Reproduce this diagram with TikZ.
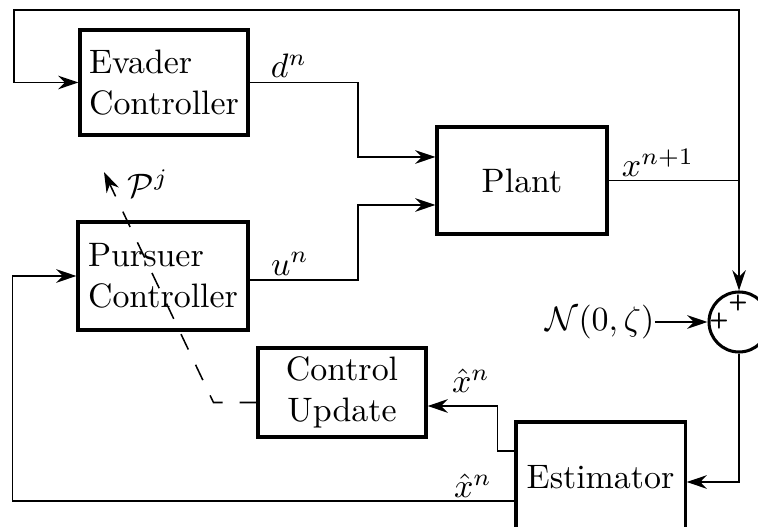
\documentclass[tikz,border=0pt]{standalone}
\usetikzlibrary{arrows.meta,calc}
\begin{document}
\begin{tikzpicture}[x=0.295pt,y=-0.295pt,
  box/.style 2 args={draw, line width=0.9pt, inner sep=0pt, minimum width=#1, minimum height=#2},
  conn/.style={line width=0.45pt},
  arr/.style={conn, -{Stealth[length=6pt,width=4pt]}},
  plus/.style={inner sep=0pt, font=\fontsize{6.5}{7}\selectfont\sffamily\bfseries},
  lbl/.style={inner sep=0pt}]
\useasboundingbox (0,0) rectangle (758,527);
% blocks
\node[box={49.56pt}{30.98pt}, align=left] (ev) at (164,82.5) {Evader\\Controller};
\node[box={50.15pt}{31.86pt}, align=left] (pu) at (163,276) {Pursuer\\Controller};
\node[box={50.15pt}{31.57pt}] (pl) at (522,180.5) {Plant};
\node[box={49.56pt}{26.26pt}, align=center] (up) at (342,392.5) {Control\\Update};
\node[box={49.86pt}{32.45pt}] (es) at (600.5,477) {Estimator};
\node[draw, circle, line width=0.9pt, minimum size=17.7pt, inner sep=0pt] (sum) at (739,322) {};
\node[plus] (p1) at (719,321) {+};
\node[plus] (p2) at (738,303) {+};
\node[lbl] (nz) at (600,322) {$\mathcal{N}(0,\zeta)$};
% coordinates
\coordinate (tr) at (739,10);
\coordinate (tl) at (14,10);
\coordinate (dm) at (358,0);
\coordinate (ptip) at (104,172);
\coordinate (po) at ($(pu.east)+(0,4)$);
\coordinate (pi1) at ($(pl.west)+(0,-23.5)$);
\coordinate (pi2) at ($(pl.west)+(0,24.5)$);
\coordinate (ei) at ($(es.east)+(0,5)$);
\coordinate (eo1) at ($(es.west)+(0,-26)$);
\coordinate (eo2) at ($(es.west)+(0,24)$);
\coordinate (ui) at ($(up.east)+(0,13.5)$);
\coordinate (uo) at ($(up.west)+(0,10)$);
% connectors
\draw[arr] (pl.east) -| (sum.north);
\draw[arr] (pl.east -| sum.north) -- (tr) -- (tl) |- (ev.west);
\draw[arr] (ev.east) -- (ev.east -| dm) |- (pi1);
\draw[arr] (po) -- (po -| dm) |- (pi2);
\draw[arr] (nz.east) -- (sum.west);
\draw[arr] (sum.south) |- (ei);
\draw[arr] (eo1) -- ++(-17,0) |- (ui);
\draw[arr] (eo2) -- ++(-502,0) |- (pu.west);
\draw[arr, dash pattern=on 5pt off 5pt] (uo) -- ++(-43,0) -- (ptip);
% labels
\node[lbl] (ld) at (289,66) {$d^n$};
\node[lbl] (lu) at (290,264) {$u^n$};
\node[lbl] (lx) at (658,163) {$x^{n+1}$};
\node[lbl] (lxh1) at (471,381) {$\hat{x}^n$};
\node[lbl] (lxh2) at (473,486) {$\hat{x}^n$};
\node[lbl] (lp) at (148,184) {$\mathcal{P}^j$};
\end{tikzpicture}
\end{document}
